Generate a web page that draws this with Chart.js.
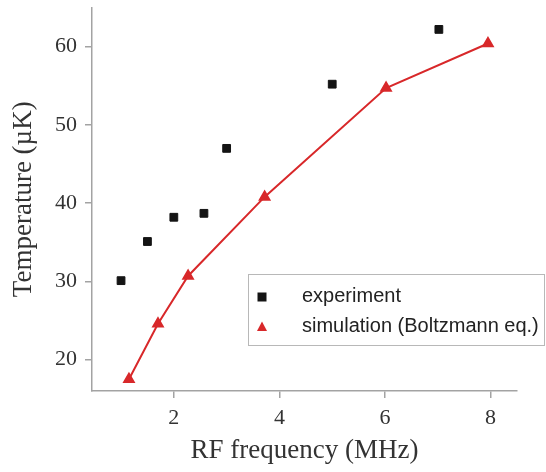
<!DOCTYPE html>
<html>
<head>
<meta charset="utf-8">
<script src="https://cdn.jsdelivr.net/npm/chart.js@4.4.0/dist/chart.umd.min.js"></script>
<style>
  html, body { margin: 0; padding: 0; background: #fff; }
</style>
</head>
<body>
<canvas id="chart" width="546" height="472"></canvas>
<script>
// values
const expFreq = [1.0, 1.5, 2.0, 2.57, 3.0, 5.0, 7.02];
const expTemp = [30.1, 35.1, 38.2, 38.7, 47.0, 55.2, 62.2];
const simFreq = [1.15, 1.7, 2.27, 3.72, 6.02, 7.95];
const simTemp = [17.5, 24.6, 30.7, 40.8, 54.7, 60.4];
const xTicks = [2, 4, 6, 8];
const yTicks = [20, 30, 40, 50, 60];
const seriesNames = ['experiment', 'simulation (Boltzmann eq.)'];

const serif = '"Liberation Serif", "Times New Roman", serif';
const axisGray = '#a3a3a3';
const red = '#d8282a';
const black = '#141414';

const toPoints = (xs, ys) => xs.map((x, i) => ({ x: x, y: ys[i] }));

// legend box drawn inside the plot, lower right
const boxLegend = {
  id: 'boxLegend',
  afterDraw(chart) {
    const ctx = chart.ctx;
    ctx.save();
    ctx.fillStyle = '#fff';
    ctx.fillRect(248.5, 274.5, 296, 71);
    ctx.strokeStyle = '#b8b8b8';
    ctx.lineWidth = 1;
    ctx.strokeRect(248.5, 274.5, 296, 71);
    ctx.font = '20px "Liberation Sans", Arial, sans-serif';
    ctx.textBaseline = 'middle';
    chart.data.datasets.forEach((ds, i) => {
      const y = 297 + i * 30;
      const x = 262;
      ctx.fillStyle = ds.backgroundColor;
      if (ds.pointStyle === 'rect') {
        ctx.fillRect(x - 4.5, y - 4.5, 9, 9);
      } else {
        ctx.beginPath();
        ctx.moveTo(x, y - 5.5);
        ctx.lineTo(x + 5, y + 4);
        ctx.lineTo(x - 5, y + 4);
        ctx.closePath();
        ctx.fill();
      }
      ctx.fillStyle = '#222';
      ctx.fillText(ds.label, 302, y - 1);
    });
    ctx.restore();
  }
};

new Chart(document.getElementById('chart'), {
  type: 'scatter',
  data: {
    datasets: [
      {
        label: seriesNames[0],
        data: toPoints(expFreq, expTemp),
        pointStyle: 'rect',
        pointRadius: 5.5,
        borderWidth: 1,
        backgroundColor: black,
        borderColor: black,
        showLine: false
      },
      {
        label: seriesNames[1],
        data: toPoints(simFreq, simTemp),
        pointStyle: 'triangle',
        pointRadius: 5.5,
        borderWidth: 2,
        backgroundColor: red,
        borderColor: red,
        showLine: true,
        tension: 0
      }
    ]
  },
  options: {
    responsive: false,
    animation: false,
    layout: { padding: { top: 6, right: 29, left: 0, bottom: 0 } },
    plugins: {
      legend: { display: false },
      tooltip: { enabled: false }
    },
    scales: {
      x: {
        type: 'linear',
        min: 0.45,
        max: 8.5,
        afterBuildTicks: s => { s.ticks = xTicks.map(v => ({ value: v })); },
        afterFit: s => { s.height = 81; s.paddingLeft = 0; s.paddingRight = 0; },
        border: { color: axisGray, width: 1.5 },
        grid: { drawOnChartArea: false, color: axisGray, lineWidth: 1.5, tickLength: 7 },
        ticks: { font: { family: serif, size: 22 }, color: '#333', padding: 7, maxRotation: 0 },
        title: {
          display: true,
          text: 'RF frequency (MHz)',
          font: { family: serif, size: 27 },
          color: '#333',
          padding: { top: 0, bottom: 5 }
        }
      },
      y: {
        min: 16,
        max: 65,
        afterBuildTicks: s => { s.ticks = yTicks.map(v => ({ value: v })); },
        afterFit: s => { s.width = 92; s.paddingTop = 0; s.paddingBottom = 0; },
        border: { color: axisGray, width: 1.5 },
        grid: { drawOnChartArea: false, color: axisGray, lineWidth: 1.5, tickLength: 7 },
        ticks: { font: { family: serif, size: 22 }, color: '#333', padding: 8 },
        title: {
          display: true,
          text: 'Temperature (µK)',
          font: { family: serif, size: 27 },
          color: '#333',
          padding: { top: 8, bottom: 0 }
        }
      }
    }
  },
  plugins: [boxLegend]
});
</script>
</body>
</html>
